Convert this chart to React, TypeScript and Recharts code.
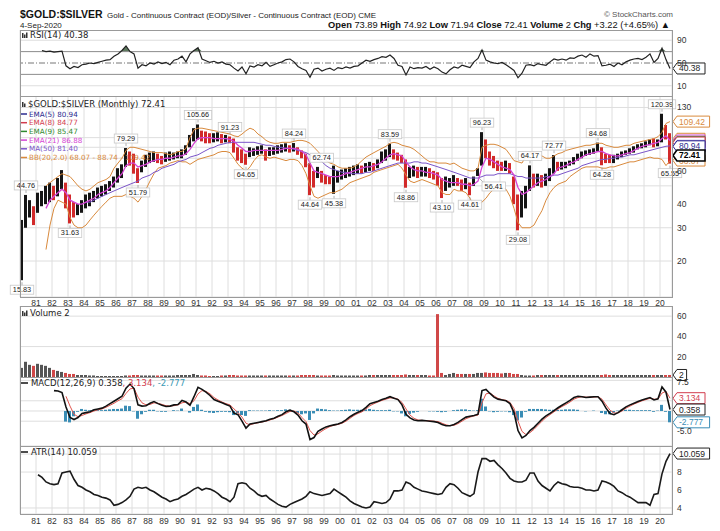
"use client";
import React from "react";
import {
  ComposedChart,
  Line,
  Bar,
  Area,
  Scatter,
  XAxis,
  YAxis,
  CartesianGrid,
  ReferenceLine,
  Cell,
} from "recharts";

const SANS = "'DejaVu Sans', Verdana, sans-serif";
const ARIAL = "'Liberation Sans', Arial, sans-serif";

const yearLabels = [
  "81", "82", "83", "84", "85", "86", "87", "88", "89", "90",
  "91", "92", "93", "94", "95", "96", "97", "98", "99", "00",
  "01", "02", "03", "04", "05", "06", "07", "08", "09", "10",
  "11", "12", "13", "14", "15", "16", "17", "18", "19", "20",
];
const yearTicks = yearLabels.map((_, i) => 1981 + i);

// one value per quarter, 1980 Q1 .. 2020 Q3
const priceLow = [
  15.83, 30, 34, 31, 36, 39, 40, 41, 42, 44, 48, 38, 31.63, 34, 35, 36,
  38, 39, 41, 43, 44, 45, 47, 49, 52, 55, 63, 64, 58, 51.79, 59, 63,
  66, 67, 66, 65, 67, 68, 69, 70, 70, 73, 80, 86, 88, 86, 84, 84,
  85, 86, 84, 85, 84, 75, 68, 66, 64.65, 71, 72, 73, 74, 68, 72, 73,
  74, 75, 76, 75, 76, 73, 70, 62.74, 44.64, 49, 55, 52, 51, 51, 45.38, 52,
  54, 55, 56, 57, 58, 58, 59, 60, 60, 62, 66, 68, 71, 69, 68, 66,
  48.86, 55, 56, 55, 56, 56, 55, 54, 50, 43.1, 47, 49, 50, 50, 47, 48,
  44.61, 50, 56.41, 64, 70, 64, 62, 60, 60, 60, 58, 40, 29.08, 34, 38, 47,
  49, 50, 49, 50, 53, 58, 60, 61, 62, 64, 65, 68, 70, 72, 73, 74,
  76, 64.28, 66, 66, 66, 69, 71, 73, 74, 75, 78, 79, 80, 82, 80, 81,
  85, 88, 65.55,
];
const priceHigh = [
  33, 44.76, 42, 39, 46, 47, 50, 52, 50, 55, 60.6, 52, 45, 41, 40, 42,
  45, 46, 47, 49, 50, 51, 53, 56, 62, 65, 79.29, 76, 74, 62, 68, 73,
  75, 76, 74, 72, 75, 76, 75, 76, 78, 82, 93, 101, 105.66, 98, 97, 95,
  95, 96, 94, 93, 91.23, 89, 80, 78, 74, 80, 79, 81, 82, 78, 80, 80,
  82, 83, 84, 82, 84.24, 80, 77, 74, 66, 60, 63, 60, 57, 56, 64, 60,
  61, 62, 63, 64, 65, 64, 66, 67, 66, 69, 76, 78, 83.59, 78, 75, 73,
  69, 63, 64, 63, 63, 63, 62, 60, 59, 55, 56, 55, 57, 55, 54, 55,
  52, 56, 62, 96.23, 88, 76, 72, 68, 67, 68, 66, 56, 45, 47, 50, 64.17,
  58, 58, 57, 58, 62, 72.77, 67, 67, 67, 68, 71, 74, 76, 77, 78, 79,
  84.68, 80, 74, 73, 73, 74, 76, 77, 79, 81, 83, 84, 86, 88, 89, 88,
  120.39, 105, 95,
];
const ema21 = [
  null, null, null, null, null, null, 38, 42, 44, 46, 48, 46, 42, 41, 40, 40,
  41, 42, 43, 45, 46, 47, 49, 52, 55, 58, 64, 66, 66, 63, 64, 65,
  67, 68, 69, 69, 70, 70, 71, 72, 72, 74, 78, 84, 89, 90, 90, 90,
  89, 89, 89, 89, 88, 86, 82, 79, 76, 76, 77, 77, 77, 77, 77, 77,
  77, 78, 79, 79, 79, 78, 76, 73, 66, 60, 59, 58, 57, 56, 56, 56,
  57, 58, 59, 60, 61, 62, 63, 63, 64, 65, 67, 70, 73, 74, 73, 72,
  67, 63, 61, 60, 60, 59, 59, 58, 57, 54, 53, 52, 52, 52, 51, 51,
  50, 51, 53, 63, 70, 69, 67, 65, 63, 62, 61, 57, 49, 45, 46, 48,
  50, 52, 53, 54, 56, 58, 62, 63, 64, 66, 67, 69, 71, 73, 74, 75,
  76, 76, 74, 73, 72, 72, 73, 74, 75, 77, 79, 81, 82, 83, 84, 85,
  89, 92, 86.88,
];
const ma50 = [
  null, null, null, null, null, null, null, null, null, null, null, null, null, null, null, null,
  41, 41, 42, 43, 44, 45, 46, 47, 48, 49, 50, 51, 52, 53, 55, 56,
  57, 59, 60, 62, 63, 64, 65, 67, 68, 69, 71, 72, 73, 75, 77, 79,
  80, 82, 83, 84, 85, 85, 85, 85, 85, 85, 85, 84, 83, 82, 82, 81,
  80, 80, 79, 79, 78, 77, 76, 75, 73, 71, 69, 67, 64, 62, 61, 60,
  59, 59, 58, 58, 58, 58, 59, 59, 60, 61, 62, 63, 64, 65, 66, 66,
  66, 66, 67, 67, 66, 66, 65, 64, 63, 62, 61, 60, 59, 58, 57, 56,
  55, 55, 55, 56, 57, 57, 57, 58, 58, 58, 58, 57, 56, 56, 55, 55,
  55, 55, 55, 56, 56, 57, 57, 58, 59, 60, 61, 62, 64, 65, 66, 67,
  68, 69, 69, 70, 70, 71, 71, 72, 73, 73, 74, 75, 76, 77, 78, 79,
  80, 81, 81.4,
];
const bbUpper = [
  null, null, null, null, null, null, 50, 52, 54, 56, 58, 57, 56, 53, 50, 48,
  47, 48, 50, 52, 53, 54, 56, 62, 66, 70, 77, 80, 80, 79, 78, 77,
  76, 75, 75, 75, 74, 73, 74, 76, 76, 79, 90, 99, 101, 101, 100, 99,
  98, 97, 96, 95, 94, 92, 91, 94, 98, 101, 99, 94, 91, 87, 85, 84,
  84, 85, 85, 85, 86, 87, 87, 86, 84, 80, 76, 72, 68, 66, 65, 63,
  62, 62, 62, 63, 65, 68, 71, 73, 75, 77, 79, 81, 84, 85, 84, 82,
  81, 80, 78, 75, 72, 69, 67, 67, 66, 66, 66, 65, 66, 64, 62, 61,
  60, 60, 62, 80, 82, 83, 83, 82, 80, 78, 73, 68, 67, 66, 72, 75,
  75, 74, 72, 70, 70, 72, 74, 75, 77, 78, 79, 80, 81, 82, 82, 83,
  84, 84, 82, 81, 80, 80, 81, 82, 82, 84, 85, 86, 87, 88, 89, 91,
  96, 107, 109.42,
];
const bbLower = [
  null, null, null, null, null, null, 23, 31, 38, 42, 41, 40, 34, 31, 30, 30,
  31, 33, 35, 37, 39, 41, 43, 44, 44, 44, 45, 44, 43, 41, 44, 48,
  53, 58, 62, 63, 64, 66, 67, 68, 67, 67, 65, 67, 69, 70, 71, 72,
  73, 75, 76, 76, 75, 70, 65, 62, 60, 63, 68, 72, 73, 71, 70, 71,
  70, 69, 68, 69, 69, 68, 64, 58, 50, 44, 43, 44, 45, 46, 46, 47,
  48, 50, 52, 53, 54, 55, 56, 57, 59, 60, 61, 62, 63, 64, 65, 62,
  57, 53, 52, 53, 54, 53, 52, 51, 50, 46, 45, 45, 48, 47, 47, 46,
  43, 39, 40, 41, 43, 46, 48, 49, 49, 48, 44, 38, 32, 30, 30, 30,
  31, 34, 37, 42, 46, 49, 51, 52, 53, 56, 58, 60, 62, 63, 63, 63,
  63, 62, 62, 63, 63, 64, 65, 66, 67, 67, 68, 69, 70, 71, 70, 70,
  69, 64, 68.07,
];
const rsi = [
  null, null, null, null, null, 72, 70, 71, 69, 70, 71, 45, 40, 44, 42, 47,
  48, 50, 49, 51, 53, 55, 56, 62, 66, 72, 80, 70, 66, 41, 47, 45,
  50, 48, 52, 49, 51, 47, 55, 57, 62, 52, 66, 72, 77, 57, 54, 51,
  53, 50, 52, 48, 47, 41, 36, 43, 31, 45, 43, 47, 45, 51, 44, 47,
  50, 52, 56, 57, 52, 44, 40, 37, 25, 39, 41, 36, 39, 41, 37, 42,
  40, 43, 41, 44, 45, 50, 55, 53, 56, 58, 61, 60, 64, 58, 46, 44,
  29, 43, 40, 42, 41, 44, 39, 43, 40, 34, 31, 38, 43, 41, 46, 44,
  42, 52, 58, 73, 55, 52, 50, 49, 51, 47, 42, 37, 24, 32, 46, 47,
  45, 49, 47, 46, 52, 57, 55, 57, 55, 59, 58, 62, 64, 60, 66, 62,
  63, 45, 46, 48, 44, 50, 47, 52, 55, 57, 58, 56, 60, 66, 51, 58,
  76, 56, 40.38,
];
const volume = [
  9, 15, 12, 11, 13, 12, 11, 9, 7, 6, 5, 4, 3, 3, 2, 2,
  2, 1.5, 1.5, 1, 1, 1, 1, 1, 1, 1, 1.5, 1.5, 2, 2, 1.5, 1.5,
  1.5, 1.5, 1.5, 1.5, 1.5, 1.5, 1.5, 2, 2, 2, 2, 3, 2, 1.5, 1.5, 1,
  1, 1, 1.5, 1.5, 2, 2, 1.5, 1.5, 1.5, 1.5, 1.5, 1.5, 1.5, 1.5, 1.5, 1.5,
  1.5, 1.5, 1.5, 1.5, 1.5, 1.5, 2, 2, 2, 2, 1.5, 1.5, 1.5, 1.5, 2, 1.5,
  1.5, 1.5, 1.5, 1.5, 1.5, 1.5, 1.5, 2, 2, 2, 2, 2, 2, 2, 2, 2,
  2.5, 2, 2, 2, 2, 2, 1.5, 1.5, 62, 4, 2, 3, 4, 3, 3, 3,
  3, 3, 4, 4, 4.5, 4, 4, 4, 3.5, 4, 4, 3, 3, 2, 1.5, 1.5,
  1.5, 2, 2, 2, 2, 2, 2, 2, 2, 2, 2, 2, 2, 2, 2, 2,
  2, 2, 2.5, 2, 2, 2, 2, 2, 2, 2, 2, 2, 2, 2, 2, 2,
  2, 2, 2,
];
const macd = [
  null, null, null, null, null, null, null, null, 5.0, 4.9, 4.5, 1.0, -1.6, -2.1, -1.6, -0.6,
  -0.4, -0.2, 0.3, 0.5, 0.7, 1.2, 1.8, 2.4, 3.0, 3.6, 5.6, 6.6, 5.5, 1.5, 1.2, 1.3,
  1.9, 2.3, 1.8, 1.4, 1.1, 1.2, 1.5, 1.6, 2.6, 2.2, 1.4, 3.5, 5.8, 5.3, 4.6, 3.8,
  2.8, 2.4, 2.0, 1.6, 1.2, -0.5, -0.9, -2.5, -4.2, -3.2, -3.0, -2.8, -2.6, -2.4, -2.0, -1.8,
  -1.3, -0.9, -0.2, 0.2, -0.2, -1.0, -2.4, -3.2, -7.0, -6.5, -5.0, -4.4, -3.9, -3.6, -3.4, -3.2,
  -2.8, -2.2, -1.4, -0.8, -0.3, 0.1, 0.9, 1.8, 2.1, 2.4, 2.8, 3.1, 3.5, 3.1, 2.8, 1.5,
  -0.8, -1.7, -2.2, -2.4, -2.3, -2.4, -2.5, -2.6, -2.8, -3.3, -3.6, -3.6, -3.3, -2.8, -2.1, -1.5,
  -1.3, -1.1, -0.8, 5.0, 5.3, 4.3, 3.4, 2.9, 2.7, 2.5, 1.8, -0.4, -4.8, -6.6, -6.0, -4.8,
  -4.0, -3.0, -2.0, -1.2, -0.6, 0.1, 0.8, 1.4, 2.0, 2.6, 3.3, 3.6, 3.5, 3.3, 3.4, 3.5,
  3.5, 2.4, 0.7, -0.6, -0.9, -0.4, 0.3, 1.0, 1.5, 1.9, 2.3, 2.7, 3.0, 3.3, 2.7, 3.0,
  5.9, 4.6, 0.358,
];
const signal = [
  null, null, null, null, null, null, null, null, null, null, null, 3.6, 1.2, -0.8, -1.4, -1.1,
  -0.7, -0.4, 0.0, 0.3, 0.5, 0.9, 1.4, 1.9, 2.5, 3.0, 4.3, 5.4, 5.6, 3.4, 2.0, 1.5,
  1.6, 2.0, 1.9, 1.6, 1.3, 1.2, 1.3, 1.5, 2.0, 2.2, 1.8, 2.5, 4.2, 5.0, 4.8, 4.2,
  3.3, 2.7, 2.2, 1.8, 1.5, 0.5, -0.4, -1.5, -3.0, -3.4, -3.1, -2.9, -2.7, -2.5, -2.2, -1.9,
  -1.5, -1.1, -0.6, -0.1, 0.0, -0.5, -1.6, -2.6, -4.8, -5.9, -5.6, -4.9, -4.3, -3.8, -3.5, -3.3,
  -3.0, -2.5, -1.8, -1.1, -0.6, -0.2, 0.5, 1.3, 1.8, 2.2, 2.6, 2.9, 3.2, 3.2, 2.9, 2.1,
  0.5, -1.0, -1.8, -2.2, -2.3, -2.4, -2.4, -2.5, -2.6, -3.0, -3.4, -3.6, -3.5, -3.1, -2.5, -1.9,
  -1.5, -1.2, -1.0, 2.0, 4.2, 4.4, 3.7, 3.1, 2.8, 2.6, 2.1, 0.6, -2.5, -5.0, -5.8, -5.3,
  -4.5, -3.5, -2.5, -1.6, -0.9, -0.2, 0.5, 1.1, 1.6, 2.2, 2.9, 3.3, 3.5, 3.4, 3.4, 3.4,
  3.5, 2.9, 1.5, 0.2, -0.5, -0.5, 0.0, 0.7, 1.2, 1.7, 2.1, 2.5, 2.8, 3.1, 2.9, 2.9,
  4.4, 4.8, 3.134,
];
const atr = [
  null, null, null, null, 7.7, 7.4, 6.9, 6.7, 6.6, 6.7, 7.9, 8.0, 8.1, 7.2, 6.5, 6.3,
  6.0, 5.8, 5.5, 5.4, 5.2, 5.1, 4.9, 4.3, 4.4, 4.6, 4.9, 5.3, 6.1, 6.3, 6.2, 6.3,
  6.0, 5.8, 5.5, 5.2, 5.0, 4.7, 4.9, 5.0, 5.3, 5.5, 5.8, 6.1, 6.3, 6.0, 6.2, 6.1,
  5.9, 5.6, 5.2, 5.0, 4.7, 5.2, 6.7, 6.8, 6.7, 6.2, 5.9, 5.5, 5.3, 5.4, 5.0, 4.7,
  4.4, 4.2, 4.1, 4.4, 4.6, 4.8, 5.0, 5.3, 5.8, 5.6, 5.5, 5.4, 5.5, 5.6, 6.1, 5.8,
  5.5, 5.2, 4.8, 4.5, 4.3, 4.1, 4.0, 4.1, 4.7, 4.6, 4.5, 4.6, 5.0, 5.9, 5.9, 6.0,
  6.9, 6.7, 6.3, 6.1, 5.9, 5.8, 5.7, 5.6, 5.5, 5.6, 6.3, 6.7, 6.6, 6.2, 5.7, 5.5,
  5.3, 5.6, 8.0, 9.5, 9.5, 9.2, 9.3, 8.8, 8.4, 7.9, 7.3, 7.0, 6.9, 6.9, 7.1, 7.9,
  7.9, 7.0, 6.5, 6.2, 5.9, 6.5, 6.9, 6.7, 6.6, 6.4, 6.3, 6.3, 6.2, 6.0, 6.0, 5.9,
  6.0, 7.0, 6.9, 6.7, 6.4, 5.9, 5.7, 5.4, 5.2, 4.9, 4.6, 4.6, 4.6, 4.3, 5.5, 5.6,
  7.8, 9.2, 10.059,
];

// labelled highs and lows on the price panel
const annotations = [
  { t: 1980.125, v: 15.83, side: "below" },
  { t: 1980.375, v: 44.76, side: "above" },
  { t: 1983.125, v: 31.63, side: "below" },
  { t: 1986.625, v: 79.29, side: "above" },
  { t: 1987.375, v: 51.79, side: "below" },
  { t: 1991.125, v: 105.66, side: "above" },
  { t: 1993.125, v: 91.23, side: "above" },
  { t: 1994.125, v: 64.65, side: "below" },
  { t: 1997.125, v: 84.24, side: "above" },
  { t: 1997.875, v: 62.74, side: "rightUp" },
  { t: 1998.125, v: 44.64, side: "below" },
  { t: 1999.625, v: 45.38, side: "below" },
  { t: 2003.125, v: 83.59, side: "above" },
  { t: 2004.125, v: 48.86, side: "below" },
  { t: 2006.375, v: 43.1, side: "below" },
  { t: 2008.125, v: 44.61, side: "below" },
  { t: 2008.625, v: 56.41, side: "rightDown" },
  { t: 2008.875, v: 96.23, side: "above" },
  { t: 2011.125, v: 29.08, side: "below" },
  { t: 2011.875, v: 64.17, side: "above" },
  { t: 2013.375, v: 72.77, side: "above" },
  { t: 2016.125, v: 84.68, side: "above" },
  { t: 2016.375, v: 64.28, side: "below" },
  { t: 2020.125, v: 120.39, side: "above" },
  { t: 2020.625, v: 65.55, side: "below" },
];

const legendItems = [
  { text: "EMA(5) 80.94", color: "#2b2b8f" },
  { text: "EMA(8) 84.77", color: "#d23c4e" },
  { text: "EMA(9) 85.47", color: "#2f8a2f" },
  { text: "EMA(21) 86.88", color: "#d443d4" },
  { text: "MA(50) 81.40", color: "#7b55c9" },
  { text: "BB(20,2.0) 68.07 - 88.74 - 109.42", color: "#d98a3d" },
];

// last values tagged on the price axis; the ones hidden under the stack show only their frame
const priceBoxes = [
  { v: 109.42, color: "#d98a3d", text: true },
  { v: 88.74, color: "#d98a3d", text: false },
  { v: 86.88, color: "#d443d4", text: false },
  { v: 85.47, color: "#2f8a2f", text: false },
  { v: 84.77, color: "#d23c4e", text: true },
  { v: 81.4, color: "#7b55c9", text: false },
  { v: 68.07, color: "#d98a3d", text: true },
  { v: 80.94, color: "#2b2b8f", text: true },
  { v: 72.41, color: "#000000", text: true, bold: true },
];

const UP = "#151515";
const DOWN = "#d22a2a";

const rows = priceLow.map((lo, i) => {
  const hi = priceHigh[i];
  const up = i === 0 ? true : lo + hi >= priceLow[i - 1] + priceHigh[i - 1];
  const m = macd[i];
  const s = signal[i];
  return {
    t: 1980 + i / 4 + 0.125,
    range: [lo, hi],
    up,
    ema21: ema21[i],
    ma50: ma50[i],
    bbUp: bbUpper[i],
    bbLo: bbLower[i],
    rsi: rsi[i],
    rsiHot: rsi[i] == null ? null : [70, Math.max(70, rsi[i] as number)],
    vol: volume[i],
    macd: m,
    signal: s,
    hist: m != null && s != null ? m - s : null,
    atr: atr[i],
  };
});

const X_DOMAIN = [1980, 2020.75];
const LEFT = 20;
const AXIS_W = 48;
const W = 720;
const GRID = "#dedede";

function valueBox(text: string, color: string, bold = false, showText = true) {
  return (props: any) => {
    const vb = props.viewBox || {};
    const x = (vb.x ?? 0) + (vb.width ?? 0) + 1;
    const y = vb.y ?? 0;
    const w = text.length * 4.6 + 5;
    return (
      <g>
        <path
          d={`M${x} ${y} L${x + 4} ${y - 5.5} H${x + 4 + w} V${y + 5.5} H${x + 4} Z`}
          fill="#fff"
          stroke={color}
          strokeWidth={bold ? 1.6 : 1}
        />
        {showText && (
          <text
            x={x + 6}
            y={y + 3}
            fontSize={8.5}
            fontFamily={ARIAL}
            fontWeight={bold ? "bold" : "normal"}
            fill={color}
          >
            {text}
          </text>
        )}
      </g>
    );
  };
}

function AnnLabel(props: any) {
  const { cx, cy, payload } = props;
  if (cx == null || cy == null) return null;
  const text = payload.v.toFixed(2);
  const w = text.length * 3.9 + 4;
  const h = 9;
  let bx = cx - w / 2;
  let by = cy - 14;
  let tip = { x1: cx, y1: cy - 5, x2: cx, y2: cy - 2 };
  if (payload.side === "below") {
    by = cy + 5;
    tip = { x1: cx, y1: cy + 2, x2: cx, y2: cy + 5 };
  } else if (payload.side === "rightUp") {
    bx = cx + 4;
    by = cy - 14;
    tip = { x1: cx + 1, y1: cy - 2, x2: cx + 5, y2: cy - 5 };
  } else if (payload.side === "rightDown") {
    bx = cx + 4;
    by = cy + 6;
    tip = { x1: cx + 1, y1: cy + 2, x2: cx + 5, y2: cy + 6 };
  }
  return (
    <g>
      <line {...tip} stroke="#999" strokeWidth={0.8} />
      <rect x={bx} y={by} width={w} height={h} fill="#fff" fillOpacity={0.9} stroke="#c8c8c8" strokeWidth={0.8} />
      <text x={bx + w / 2} y={by + 7} textAnchor="middle" fontSize={7.3} fontFamily={ARIAL} fill="#222">
        {text}
      </text>
    </g>
  );
}

const axisTick = { fontSize: 8.5, fill: "#333", fontFamily: ARIAL };

function hiddenX() {
  return (
    <XAxis
      dataKey="t"
      type="number"
      domain={X_DOMAIN}
      ticks={yearTicks}
      height={0}
      tick={false}
      axisLine={false}
      tickLine={false}
    />
  );
}

function yearX(tickSize: number, height: number) {
  return (
    <XAxis
      dataKey="t"
      type="number"
      domain={X_DOMAIN}
      ticks={yearTicks}
      height={height}
      tickSize={tickSize}
      tickMargin={0}
      axisLine={false}
      tickLine={false}
      tick={axisTick}
      interval={0}
      tickFormatter={(v: number) => yearLabels[v - 1981]}
    />
  );
}

function Panel({ top, height, children }: { top: number; height: number; children: React.ReactNode }) {
  return <div style={{ position: "absolute", left: 0, top, width: W, height }}>{children}</div>;
}

const margin = { top: 0, right: 0, bottom: 0, left: LEFT };

// ticks whose labels the stacked value tags cover in the original
const hidePriceTicks = [70, 80, 90, 110];
const hideMacdTicks = [2.5, 0, -2.5];

export default function App() {
  return (
    <div
      style={{
        position: "absolute",
        left: 0,
        top: 0,
        width: W,
        height: 531,
        background: "#fff",
        overflow: "hidden",
      }}
    >
      {/* RSI */}
      <Panel top={30} height={66}>
        <ComposedChart width={W} height={66} data={rows} margin={margin}>
          <CartesianGrid stroke={GRID} horizontalValues={[10, 90]} />
          {hiddenX()}
          <YAxis
            orientation="right"
            width={AXIS_W}
            domain={[-8, 108]}
            ticks={[10, 30, 50, 70, 90]}
            tick={axisTick}
            tickSize={4}
            tickMargin={1}
            axisLine={false}
            tickLine={false}
          />
          <ReferenceLine y={70} stroke="#8c8c8c" />
          <ReferenceLine y={30} stroke="#8c8c8c" />
          <ReferenceLine y={50} stroke="#777" strokeDasharray="6 2 1 2" />
          <Area dataKey="rsiHot" stroke="none" fill="#4d6a4d" fillOpacity={0.9} isAnimationActive={false} />
          <Line dataKey="rsi" stroke="#222" strokeWidth={1.2} dot={false} isAnimationActive={false} />
          <ReferenceLine y={40.38} stroke="none" label={valueBox("40.38", "#222")} />
        </ComposedChart>
      </Panel>

      {/* price */}
      <Panel top={96} height={213}>
        <ComposedChart width={W} height={213} data={rows} margin={margin}>
          <CartesianGrid stroke={GRID} />
          {yearX(3, 12)}
          <YAxis
            orientation="right"
            width={AXIS_W}
            scale="log"
            domain={[12.9, 149.5]}
            ticks={[20, 30, 40, 50, 60, 70, 80, 90, 100, 110, 120, 130]}
            tickFormatter={(v: number) => (hidePriceTicks.includes(v) ? "" : String(v))}
            tick={axisTick}
            tickSize={4}
            tickMargin={1}
            axisLine={false}
            tickLine={false}
          />
          <Line dataKey="bbUp" stroke="#d98a3d" strokeWidth={1} dot={false} isAnimationActive={false} />
          <Line dataKey="bbLo" stroke="#d98a3d" strokeWidth={1} dot={false} isAnimationActive={false} />
          <Line dataKey="ma50" stroke="#7b55c9" strokeWidth={1} dot={false} isAnimationActive={false} />
          <Line dataKey="ema21" stroke="#d443d4" strokeWidth={1.3} dot={false} isAnimationActive={false} />
          <Bar dataKey="range" barSize={3} isAnimationActive={false}>
            {rows.map((r, i) => (
              <Cell key={i} fill={r.up ? UP : DOWN} />
            ))}
          </Bar>
          <Scatter data={annotations} dataKey="v" shape={AnnLabel} isAnimationActive={false} />
          {priceBoxes.map((b) => (
            <ReferenceLine
              key={b.v}
              y={b.v}
              stroke="none"
              label={valueBox(b.v.toFixed(2), b.color, !!b.bold, b.text)}
            />
          ))}
        </ComposedChart>
      </Panel>

      {/* volume */}
      <Panel top={306} height={78}>
        <ComposedChart width={W} height={78} data={rows} margin={{ ...margin, bottom: 7 }}>
          <CartesianGrid stroke={GRID} horizontalValues={[10, 20, 30, 40, 50, 60]} />
          {hiddenX()}
          <YAxis
            orientation="right"
            width={AXIS_W}
            domain={[0, 70]}
            ticks={[20, 40, 60]}
            tick={axisTick}
            tickSize={4}
            tickMargin={1}
            axisLine={false}
            tickLine={false}
          />
          <Bar dataKey="vol" barSize={3} isAnimationActive={false}>
            {rows.map((r, i) => (
              <Cell key={i} fill={r.up ? "#555" : "#d04848"} />
            ))}
          </Bar>
          <ReferenceLine y={2} stroke="none" label={valueBox("2", "#222")} />
        </ComposedChart>
      </Panel>

      {/* MACD */}
      <Panel top={377} height={69}>
        <ComposedChart width={W} height={69} data={rows} margin={margin}>
          <CartesianGrid stroke={GRID} />
          {hiddenX()}
          <YAxis
            orientation="right"
            width={AXIS_W}
            domain={[-8.58, 8.33]}
            ticks={[-7.5, -5, -2.5, 0, 2.5, 5, 7.5]}
            tickFormatter={(v: number) => (hideMacdTicks.includes(v) ? "" : v.toFixed(1))}
            tick={axisTick}
            tickSize={4}
            tickMargin={1}
            axisLine={false}
            tickLine={false}
          />
          <Bar dataKey="hist" fill="#3a8db5" barSize={3} isAnimationActive={false} />
          <Line dataKey="signal" stroke="#e0564f" strokeWidth={1} dot={false} isAnimationActive={false} />
          <Line dataKey="macd" stroke="#111" strokeWidth={1.6} dot={false} isAnimationActive={false} />
          <ReferenceLine y={3.134} stroke="none" label={valueBox("3.134", "#d23c4e")} />
          <ReferenceLine y={0.358} stroke="none" label={valueBox("0.358", "#222")} />
          <ReferenceLine y={-2.777} stroke="none" label={valueBox("-2.777", "#3a8db5")} />
        </ComposedChart>
      </Panel>

      {/* ATR */}
      <Panel top={446} height={82}>
        <ComposedChart width={W} height={82} data={rows} margin={margin}>
          <CartesianGrid stroke={GRID} />
          {yearX(4, 14)}
          <YAxis
            orientation="right"
            width={AXIS_W}
            domain={[3.33, 10.9]}
            ticks={[4, 6, 8, 10]}
            tickFormatter={(v: number) => (v === 10 ? "" : String(v))}
            tick={axisTick}
            tickSize={4}
            tickMargin={1}
            axisLine={false}
            tickLine={false}
          />
          <Line dataKey="atr" stroke="#1a1a1a" strokeWidth={1.6} dot={false} isAnimationActive={false} />
          <ReferenceLine y={10.059} stroke="none" label={valueBox("10.059", "#222")} />
        </ComposedChart>
      </Panel>

      {/* frames, titles and panel labels */}
      <svg
        width={W}
        height={531}
        style={{ position: "absolute", left: 0, top: 0, pointerEvents: "none" }}
      >
        <g fill="none" stroke="#9a9a9a" strokeWidth={1}>
          <rect x={20.5} y={30.5} width={652} height={66} />
          <rect x={20.5} y={96.5} width={652} height={201} />
          <rect x={20.5} y={306.5} width={652} height={71} />
          <rect x={20.5} y={377.5} width={652} height={69} />
          <rect x={20.5} y={446.5} width={652} height={68} />
        </g>

        <text x={20} y={18} fontFamily={ARIAL} fontWeight="bold" fontSize={10.5} fill="#111">
          $GOLD:$SILVER
        </text>
        <text x={107} y={18} fontFamily={ARIAL} fontSize={8} fill="#222">
          Gold - Continuous Contract (EOD)/Silver - Continuous Contract (EOD) CME
        </text>
        <text x={20} y={28} fontFamily={ARIAL} fontSize={8} fill="#222">
          4-Sep-2020
        </text>
        <text x={673} y={17} textAnchor="end" fontFamily={ARIAL} fontSize={8} fill="#555">
          © StockCharts.com
        </text>
        <text x={670} y={28} textAnchor="end" fontFamily={ARIAL} fontSize={9.3} fill="#111">
          <tspan fontWeight="bold">Open</tspan> 73.89 <tspan fontWeight="bold">High</tspan> 74.92{" "}
          <tspan fontWeight="bold">Low</tspan> 71.94 <tspan fontWeight="bold">Close</tspan> 72.41{" "}
          <tspan fontWeight="bold">Volume</tspan> 2 <tspan fontWeight="bold">Chg</tspan> +3.22 (+4.65%) ▲
        </text>

        {/* small indicator glyphs */}
        <g fill="#333">
          <rect x={22} y={33} width={1.5} height={5} />
          <rect x={24} y={34.5} width={1.5} height={3.5} />
          <rect x={26} y={32.5} width={1.5} height={5.5} />
          <rect x={22} y={102} width={1.5} height={5} />
          <rect x={24} y={103.5} width={1.5} height={3.5} />
          <rect x={22} y={311} width={1.5} height={5} />
          <rect x={24} y={312.5} width={1.5} height={3.5} />
          <rect x={26} y={310.5} width={1.5} height={5.5} />
        </g>
        <text x={30} y={38} fontFamily={SANS} fontSize={8.5} fill="#222">
          RSI(14) 40.38
        </text>
        <text x={28} y={107} fontFamily={SANS} fontSize={8.5} fill="#222">
          $GOLD:$SILVER (Monthly) 72.41
        </text>
        {legendItems.map((it, i) => (
          <g key={it.text}>
            <line x1={21} x2={27} y1={114 + i * 8.7} y2={114 + i * 8.7} stroke={it.color} strokeWidth={1.5} />
            <text x={29} y={116.6 + i * 8.7} fontFamily={SANS} fontSize={7.2} fill={it.color}>
              {it.text}
            </text>
          </g>
        ))}
        <text x={30} y={316} fontFamily={SANS} fontSize={8.5} fill="#222">
          Volume 2
        </text>
        <line x1={21} x2={28} y1={383} y2={383} stroke="#111" strokeWidth={1.5} />
        <text x={31} y={386} fontFamily={SANS} fontSize={8.5} fill="#222">
          MACD(12,26,9) 0.358<tspan fill="#d23c4e">, 3.134</tspan>
          <tspan fill="#3a9ab5">, -2.777</tspan>
        </text>
        <line x1={21} x2={28} y1={452} y2={452} stroke="#111" strokeWidth={1.5} />
        <text x={31} y={455} fontFamily={SANS} fontSize={8.5} fill="#222">
          ATR(14) 10.059
        </text>
      </svg>
    </div>
  );
}
